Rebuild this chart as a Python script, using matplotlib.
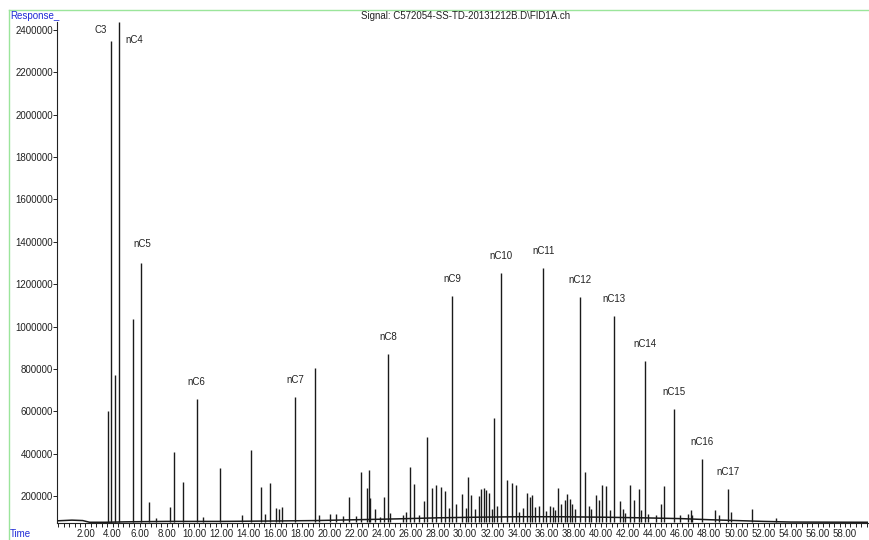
import numpy as np
import matplotlib
matplotlib.use("Agg")
import matplotlib.pyplot as plt
from matplotlib.lines import Line2D
from matplotlib.ticker import MultipleLocator, FuncFormatter

plt.rcParams['font.family'] = ['Liberation Sans', 'DejaVu Sans']

# labelled peaks (retention time in min, response)
label_names = ['C3', 'nC4', 'nC5', 'nC6', 'nC7', 'nC8', 'nC9', 'nC10',
               'nC11', 'nC12', 'nC13', 'nC14', 'nC15', 'nC16', 'nC17']
label_times = [3.89, 4.48, 6.06, 10.19, 17.44, 24.31, 29.03, 32.66,
               35.75, 38.45, 40.96, 43.25, 45.41, 47.46, 49.37]
label_heights = [2350000, 2440000, 1300000, 659000, 669000, 869000, 1144000, 1254000,
                 1275000, 1141000, 1051000, 837000, 609000, 373000, 233000]

# other (unlabelled) peaks
peak_times = [3.67, 4.18, 5.49, 6.65, 7.17, 8.20, 8.50, 9.21, 10.66, 11.89,
              13.56, 14.17, 14.93, 15.21, 15.60, 16.07, 16.26, 16.46, 18.93, 19.19,
              20.05, 20.49, 20.98, 21.42, 21.92, 22.29, 22.78, 22.90, 23.00, 23.32,
              23.74, 24.03, 24.42, 25.41, 25.60, 25.92, 26.22, 26.59, 26.93, 27.20,
              27.54, 27.87, 28.21, 28.53, 28.78, 29.34, 29.79, 30.03, 30.23, 30.45,
              30.69, 31.01, 31.19, 31.36, 31.50, 31.75, 31.97, 32.15, 32.34, 33.10,
              33.44, 33.77, 34.00, 34.26, 34.58, 34.75, 34.92, 35.12, 35.41, 35.98,
              36.22, 36.47, 36.60, 36.84, 37.09, 37.33, 37.53, 37.70, 37.90, 38.07,
              38.86, 39.12, 39.30, 39.62, 39.84, 40.08, 40.35, 40.65, 41.44, 41.63,
              41.81, 42.12, 42.44, 42.81, 42.99, 43.47, 44.09, 44.46, 44.65, 45.81,
              46.42, 46.62, 46.75, 48.44, 48.69, 49.57, 51.17, 52.94]
peak_heights = [600000, 770000, 1035000, 170000, 95000, 150000, 409000, 266000, 102000, 332000,
                110000, 417000, 244000, 114000, 260000, 142000, 137000, 150000, 803000, 110000,
                113000, 115000, 105000, 194000, 105000, 315000, 236000, 323000, 189000, 139000,
                100000, 194000, 120000, 110000, 126000, 338000, 257000, 110000, 176000, 480000,
                236000, 252000, 241000, 224000, 143000, 161000, 209000, 143000, 291000, 205000,
                140000, 200000, 232000, 236000, 228000, 213000, 140000, 567000, 153000, 276000,
                260000, 252000, 125000, 142000, 216000, 194000, 205000, 150000, 153000, 130000,
                153000, 146000, 135000, 236000, 160000, 181000, 209000, 185000, 160000, 140000,
                315000, 153000, 140000, 205000, 181000, 252000, 247000, 135000, 176000, 140000,
                120000, 252000, 181000, 232000, 135000, 115000, 112000, 160000, 247000, 110000,
                115000, 134000, 112000, 134000, 110000, 126000, 138000, 95000]

# baseline drift
base_times = [0.0, 1.0, 1.8, 2.3, 3.5, 5.0, 8.0, 12.0, 16.0, 19.0, 22.0, 25.0,
              28.0, 31.0, 34.0, 37.0, 40.0, 43.0, 46.0, 48.0, 50.0, 52.0, 54.0, 59.7]
base_values = [83000, 86000, 84000, 76000, 76000, 78000, 80000, 80000, 82000, 84000, 88000, 92000,
               97000, 100000, 102000, 102000, 100000, 97000, 93000, 88000, 84000, 80000, 77000, 76000]

fig = plt.figure(figsize=(8.7, 5.4), dpi=100)
ax = fig.add_axes([57 / 870, 17 / 540, 811 / 870, 501 / 540])

line_color = '#1a1a1a'
ax.plot(base_times, base_values, color=line_color, lw=1.1)
ax.vlines(peak_times, min(base_values), peak_heights, color=line_color, lw=1.0)
ax.vlines(label_times, min(base_values), label_heights, color=line_color, lw=1.0)

# peak labels: offsets in pixels from the apex
offsets = {'C3': (-10, 11), 'nC4': (15, -16), 'nC5': (2, 19)}
for name, t, h in zip(label_names, label_times, label_heights):
    dx, dy = offsets.get(name, (0, 17))
    ax.annotate(name, xy=(t, min(h, 2430000)), xytext=(dx, dy),
                textcoords='offset pixels', ha='center', va='center',
                fontsize=7, color='#222222', annotation_clip=False)

ax.set_xlim(-0.1, 59.7)
ax.set_ylim(72500, 2438000)

ax.xaxis.set_major_locator(MultipleLocator(2))
ax.xaxis.set_minor_locator(MultipleLocator(0.4))
ax.xaxis.set_major_formatter(FuncFormatter(lambda v, p: '' if v < 1 else f'{v:.2f}'))
ax.yaxis.set_major_locator(MultipleLocator(200000))
ax.yaxis.set_major_formatter(FuncFormatter(lambda v, p: f'{int(round(v))}'))

ax.tick_params(axis='both', which='major', direction='out', length=3, width=0.7,
               labelsize=7, colors='#222222', pad=1)
ax.tick_params(axis='y', which='major', pad=0)
ax.tick_params(axis='x', which='minor', direction='out', length=3, width=0.7, color='#222222')

for side in ['top', 'right']:
    ax.spines[side].set_visible(False)
for side in ['left', 'bottom']:
    ax.spines[side].set_linewidth(0.8)
    ax.spines[side].set_color('#222222')

# light green frame of the report page
frame = '#9be59b'
fig.add_artist(Line2D([9 / 870, 1], [1 - 10 / 540, 1 - 10 / 540], color=frame, lw=1.0))
fig.add_artist(Line2D([9 / 870, 9 / 870], [0, 1 - 10 / 540], color=frame, lw=1.0))

fig.text(10 / 870, 1 - 16 / 540, 'Response_', color='#1f2bd6', fontsize=7, va='center', ha='left')
fig.text(10 / 870, 1 - 534 / 540, 'Time', color='#1f2bd6', fontsize=7, va='center', ha='left')
fig.text(466 / 870, 1 - 16 / 540, r'Signal: C572054-SS-TD-20131212B.D\FID1A.ch',
         color='#222222', fontsize=7, va='center', ha='center')

fig.savefig('out.png', dpi=100)
